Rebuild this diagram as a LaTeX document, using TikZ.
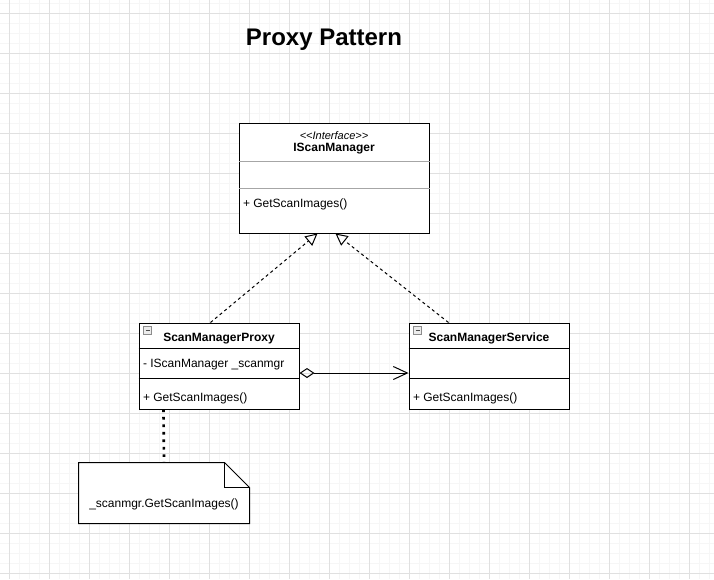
\documentclass[tikz,border=0pt]{standalone}
\usepackage{fontspec}
\setmainfont{Liberation Sans}
\usepackage{xcolor}
\usetikzlibrary{positioning}
\usetikzlibrary{arrows.meta}
\usetikzlibrary{calc}
\usetikzlibrary{math}

\definecolor{gridminor}{HTML}{F6F6F6}
\definecolor{gridmajor}{HTML}{E0E0E0}
\definecolor{rowgray}{HTML}{A6A6A6}
\definecolor{icongray}{HTML}{8C8C8C}

\tikzset{
  classbox/.style={draw=black, fill=white, inner sep=0pt},
  notebox/.style={inner sep=0pt},
  classname/.style={font=\fontsize{9}{11}\selectfont\bfseries, inner sep=0pt},
  member/.style={font=\fontsize{9}{11}\selectfont, anchor=west, inner sep=0pt},
  stereo/.style={font=\fontsize{8.25}{10}\selectfont\itshape, inner sep=0pt},
  realize/.style={dash pattern=on 2.25pt off 2.25pt,
    -{Triangle[open, length=9pt, width=9pt]}},
  aggregate/.style={{Diamond[open, length=11.25pt, width=7.5pt]}-{Straight Barb[length=10.5pt, width=9.75pt]}},
  noteline/.style={line width=2pt, dash pattern=on 2pt off 3.6pt},
}

\begin{document}
\begin{tikzpicture}[x=0.75pt, y=-0.75pt, line width=0.75pt]

  \tikzmath{
    \headh   = 26;  % height of a class header
    \rowh    = 30;  % attribute row plus separator
    \fold    = 25;  % size of the folded note corner
    \padx    = 4;   % left padding of member texts
  }

  \useasboundingbox (0,0) rectangle (714,579);

  % background grid
  \begin{scope}
    \clip (0,0) rectangle (714,579);
    \foreach \gx in {9.5,19.5,...,709.5} \draw[gridminor] (\gx,0) -- (\gx,579);
    \foreach \gy in {3.5,13.5,...,573.5} \draw[gridminor] (0,\gy) -- (714,\gy);
    \foreach \gx in {9.5,49.5,...,689.5} \draw[gridmajor] (\gx,0) -- (\gx,579);
    \foreach \gy in {13.5,53.5,...,573.5} \draw[gridmajor] (0,\gy) -- (714,\gy);
  \end{scope}

  % title
  \node[font=\fontsize{18}{22}\selectfont\bfseries] (title) at (324,40) {Proxy Pattern};

  % interface IScanManager
  \node[classbox, minimum width=142.5pt, minimum height=82.5pt] (iface) at (334,178) {};
  \draw[rowgray] ($(iface.north west)+(0,39)$) -- ($(iface.north east)+(0,39)$);
  \draw[rowgray] ($(iface.north west)+(0,66)$) -- ($(iface.north east)+(0,66)$);
  \node[stereo] (ifaceStereo) at ($(iface.north)+(0,13)$)
  {<\kern0pt<Interface>\kern0pt>};
  \node[classname] (ifaceName) at ($(iface.north)+(0,26.5)$) {IScanManager};
  \node[member] (ifaceOp) at ($(iface.north west)+(\padx,82)$) {+ GetScanImages()};

  % class ScanManagerProxy
  \node[classbox, minimum width=120pt, minimum height=64.5pt] (proxy) at (219,366) {};
  \draw ($(proxy.north west)+(0,\headh)$) -- ($(proxy.north east)+(0,\headh)$);
  \draw ($(proxy.north west)+(0,\headh+\rowh)$) -- ($(proxy.north east)+(0,\headh+\rowh)$);
  \draw[icongray, fill=gray!15, line width=0.6pt] ($(proxy.north west)+(5,4)$) rectangle +(8,8);
  \draw[black!70, line width=0.7pt] ($(proxy.north west)+(7,8)$) -- +(4,0);
  \node[classname] (proxyName) at ($(proxy.north)+(0,16)$) {ScanManagerProxy};
  \node[member] (proxyAttr) at ($(proxy.north west)+(\padx,42)$) {- IScanManager \_scanmgr};
  \node[member] (proxyOp) at ($(proxy.north west)+(\padx,76)$) {+ GetScanImages()};

  % class ScanManagerService
  \node[classbox, minimum width=120pt, minimum height=64.5pt] (service) at (489,366) {};
  \draw ($(service.north west)+(0,\headh)$) -- ($(service.north east)+(0,\headh)$);
  \draw ($(service.north west)+(0,\headh+\rowh)$) -- ($(service.north east)+(0,\headh+\rowh)$);
  \draw[icongray, fill=gray!15, line width=0.6pt] ($(service.north west)+(5,4)$) rectangle +(8,8);
  \draw[black!70, line width=0.7pt] ($(service.north west)+(7,8)$) -- +(4,0);
  \node[classname] (serviceName) at ($(service.north)+(0,16)$) {ScanManagerService};
  \node[member] (serviceOp) at ($(service.north west)+(\padx,76)$) {+ GetScanImages()};

  % note with folded corner
  \node[notebox, minimum width=127.5pt, minimum height=45pt] (note) at (164,493) {};
  \draw[fill=white] (note.north west) -- ($(note.north east)+(-\fold,0)$)
  -- ($(note.north east)+(0,\fold)$) -- (note.south east) -- (note.south west) -- cycle;
  \draw ($(note.north east)+(-\fold,0)$) -- ($(note.north east)+(-\fold,\fold)$)
  -- ($(note.north east)+(0,\fold)$);
  \node[font=\fontsize{9}{11}\selectfont, inner sep=0pt] (noteText) at ($(note.center)+(0,11.5)$)
  {\_scanmgr.GetScanImages()};

  % realization links
  \coordinate (proxyTop) at ($(proxy.north west)+(72,0)$);
  \coordinate (serviceTop) at ($(service.north west)+(40,0)$);
  \coordinate (ifaceLeft) at ($(iface.south west)+(79,0)$);
  \coordinate (ifaceRight) at ($(iface.south west)+(97,0)$);
  \draw[realize] (proxyTop) -- (ifaceLeft);
  \draw[realize] (serviceTop) -- (ifaceRight);

  % aggregation proxy -> service
  \coordinate (aggFrom) at ($(proxy.east)+(0,7)$);
  \coordinate (aggTo) at ($(service.west)+(0,7)$);
  \draw[aggregate] (aggFrom) -- (aggTo);

  % note anchor
  \coordinate (dotFrom) at ($(proxy.south west)+(25,0)$);
  \draw[noteline] (dotFrom) -- (note.north);

\end{tikzpicture}
\end{document}
